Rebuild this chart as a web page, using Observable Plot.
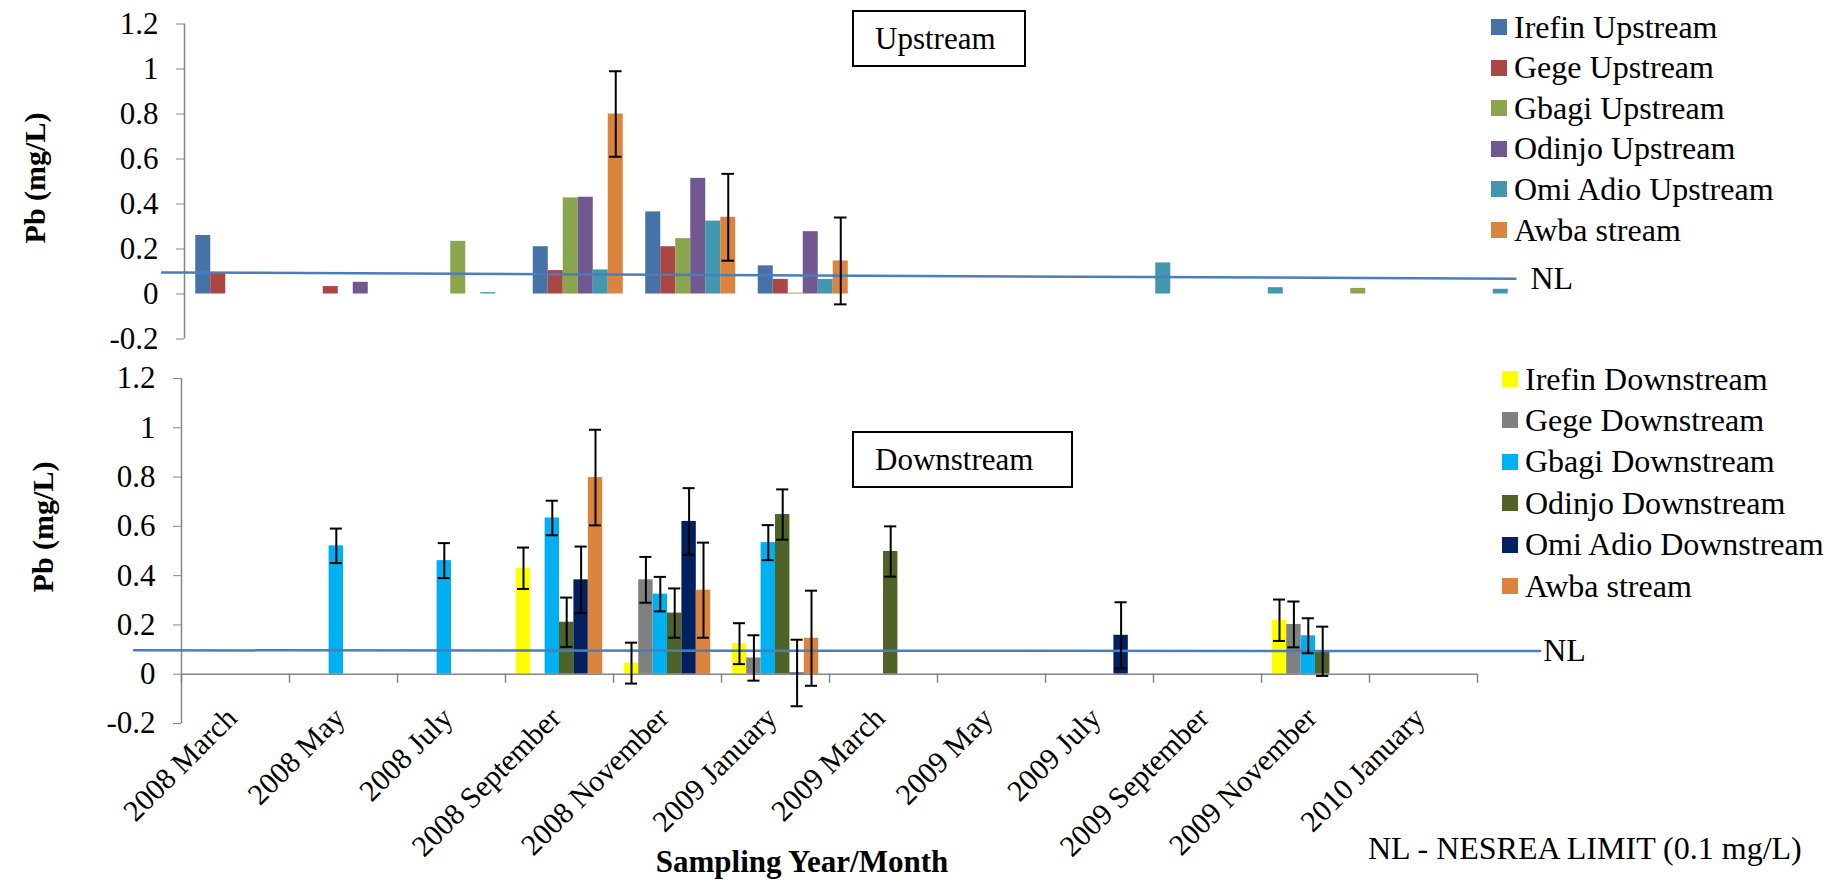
<!DOCTYPE html>
<html>
<head>
<meta charset="utf-8">
<script src="https://cdn.jsdelivr.net/npm/d3@7"></script>
<script src="https://cdn.jsdelivr.net/npm/@observablehq/plot@0.6"></script>
<style>
  body { margin: 0; background: #fff; }
  #chart { position: relative; width: 1843px; height: 880px; overflow: hidden;
           font-family: "Liberation Serif", "Times New Roman", serif; color: #000; background: #fff; }
  #chart svg { position: absolute; left: 0; overflow: visible; }
  .abs { position: absolute; white-space: nowrap; line-height: 1; }
  .box { position: absolute; box-sizing: border-box; border: 2px solid #000; background: #fff;
         display: flex; align-items: center; font-size: 31px; padding-left: 21px; }
  .legend { position: absolute; font-size: 32px; }
  .legend .item { position: absolute; left: 0; display: flex; align-items: center; white-space: nowrap; height: 30px; transform: translateY(-50%); }
  .legend .sw { width: 16px; height: 16px; margin-right: 7px; flex: none; }
  .ytitle { position: absolute; font-weight: bold; font-size: 30px; white-space: nowrap; line-height: 1;
            transform: translate(-50%, -50%) rotate(-90deg); }
</style>
</head>
<body>
<div id="chart"></div>
<script>
// ---------- data ----------
const months = ["2008 March", "2008 May", "2008 July", "2008 September", "2008 November",
  "2009 January", "2009 March", "2009 May", "2009 July", "2009 September", "2009 November", "2010 January"];
const yTicks = [-0.2, 0, 0.2, 0.4, 0.6, 0.8, 1, 1.2];

// Upstream panel
const upSeries = ["Irefin Upstream", "Gege Upstream", "Gbagi Upstream", "Odinjo Upstream", "Omi Adio Upstream", "Awba stream"];
const upColors = ["#4572A7", "#AA4643", "#89A54E", "#71588F", "#4198AF", "#DB843D"];
const irefinUp = [0.26, null, null, 0.21, 0.365, 0.125, null, null, null, null, null, null];
const gegeUp   = [0.095, 0.033, null, 0.104, 0.21, 0.065, null, null, null, null, null, null];
const gbagiUp  = [null, null, 0.234, 0.427, 0.246, 0.004, null, null, null, null, 0.025, null];
const odinjoUp = [null, 0.052, null, 0.43, 0.514, 0.277, null, null, null, null, null, null];
const omiUp    = [null, null, 0.006, 0.107, 0.324, 0.065, null, null, 0.138, 0.028, null, 0.021];
const awbaUp   = [null, null, null, 0.8, 0.341, 0.147, null, null, null, null, null, null];
const awbaUpErr = [null, null, null, 0.19, 0.193, 0.193, null, null, null, null, null, null];
const nlUp = [0.096, 0.068];   // NESREA limit line as drawn (start, end)

// Downstream panel
const downSeries = ["Irefin Downstream", "Gege Downstream", "Gbagi Downstream", "Odinjo Downstream", "Omi Adio Downstream", "Awba stream"];
const downColors = ["#FFFF00", "#808080", "#00B0F0", "#4F6228", "#002060", "#DB843D"];
const irefinDn = [null, null, null, 0.43, 0.045, 0.124, null, null, null, null, 0.219, null];
const gegeDn   = [null, null, null, null, 0.383, 0.066, null, null, null, null, 0.202, null];
const gbagiDn  = [null, 0.521, 0.461, 0.634, 0.325, 0.534, null, null, null, null, 0.156, null];
const odinjoDn = [null, null, null, 0.211, 0.248, 0.648, 0.498, null, null, null, 0.093, null];
const omiDn    = [null, null, null, 0.383, 0.62, 0.005, null, null, 0.158, null, null, null];
const awbaDn   = [null, null, null, 0.798, 0.341, 0.146, null, null, null, null, null, null];
const irefinDnErr = [null, null, null, 0.084, 0.083, 0.083, null, null, null, null, 0.084, null];
const gegeDnErr   = [null, null, null, null, 0.093, 0.092, null, null, null, null, 0.093, null];
const gbagiDnErr  = [null, 0.07, 0.071, 0.07, 0.07, 0.071, null, null, null, null, 0.071, null];
const odinjoDnErr = [null, null, null, 0.1, 0.1, 0.102, 0.102, null, null, null, 0.1, null];
const omiDnErr    = [null, null, null, 0.135, 0.135, 0.135, null, null, 0.134, null, null, null];
const awbaDnErr   = [null, null, null, 0.194, 0.193, 0.193, null, null, null, null, null, null];
const nlDown = [0.097, 0.094];

const nlNote = "NL - NESREA LIMIT (0.1 mg/L)";
const xTitle = "Sampling Year/Month";
const yTitle = "Pb (mg/L)";

// ---------- layout helpers ----------
const FONT = '"Liberation Serif", "Times New Roman", serif';
const NSER = 6, GAP = 1.5;                 // clustered bars, 150% gap width
const BW = 1 / (NSER + GAP);               // bar width in band units
const x1Of = d => d.i + (GAP / 2 + d.s) * BW;
const cxOf = d => x1Of(d) + BW / 2;
const CAP = BW * 0.42;

function rows(values, errs) {
  const out = [];
  values.forEach((vals, s) => vals.forEach((v, i) => {
    if (v == null) return;
    const e = errs && errs[s] ? errs[s][i] : null;
    out.push({s, i, v, e});
  }));
  return out;
}
const fmt = d => String(+d.toFixed(1));

function panel({data, colors, nl, nlX, nlDx, top, height, mLeft, mRight, mTop, mBottom, xAxis}) {
  const err = data.filter(d => d.e != null);
  const nlData = [{x: nlX[0], y: nl[0]}, {x: nlX[1], y: nl[1]}];
  const marks = [
    Plot.rectY(data, {x1: x1Of, x2: d => x1Of(d) + BW, y1: 0, y2: d => d.v, fill: d => colors[d.s]}),
    Plot.ruleX([0], {stroke: "#868686", strokeWidth: 1.5}),
    Plot.axisY({ticks: yTicks, tickFormat: fmt, tickSize: 8, tickPadding: 18, stroke: "#868686",
                fill: "#000", fontSize: 31, label: null}),
  ];
  if (xAxis) {
    marks.push(
      Plot.ruleY([0], {stroke: "#868686", strokeWidth: 1.5}),
      Plot.ruleX(d3.range(months.length + 1), {y1: 0, y2: 0, insetBottom: -9, stroke: "#868686", strokeWidth: 1.5}),
      Plot.text(months, {x: (d, i) => i + 0.5, y: 0, text: d => d, rotate: -45, textAnchor: "end",
                         lineAnchor: "top", dx: -12, dy: 30.5, fontSize: 30, fill: "#000"})
    );
  }
  marks.push(
    Plot.line(nlData, {x: "x", y: "y", stroke: "#4A7EBB", strokeWidth: 2.5}),
    Plot.text([nlData[1]], {x: "x", y: "y", text: () => "NL", textAnchor: "start", dx: nlDx, fontSize: 32, fill: "#000"}),
    Plot.ruleX(err, {x: cxOf, y1: d => d.v - d.e, y2: d => d.v + d.e, stroke: "#000", strokeWidth: 2}),
    Plot.ruleY(err, {y: d => d.v - d.e, x1: d => cxOf(d) - CAP, x2: d => cxOf(d) + CAP, stroke: "#000", strokeWidth: 2}),
    Plot.ruleY(err, {y: d => d.v + d.e, x1: d => cxOf(d) - CAP, x2: d => cxOf(d) + CAP, stroke: "#000", strokeWidth: 2})
  );
  const svg = Plot.plot({
    width: 1843, height,
    marginLeft: mLeft, marginRight: mRight, marginTop: mTop, marginBottom: mBottom,
    x: {type: "linear", domain: [0, months.length], axis: null},
    y: {domain: [-0.2, 1.2], axis: null},
    color: {type: "identity"},
    style: {fontFamily: FONT, fontSize: "30px", color: "#000", background: "transparent", overflow: "visible"},
    marks
  });
  svg.style.top = top + "px";
  return svg;
}

const chart = document.getElementById("chart");

const upData = rows([irefinUp, gegeUp, gbagiUp, odinjoUp, omiUp, awbaUp], [null, null, null, null, null, awbaUpErr]);
chart.appendChild(panel({
  data: upData, colors: upColors, nl: nlUp, nlX: [-0.2, 11.83], nlDx: 15,
  top: 0, height: 350, mLeft: 184, mRight: 309, mTop: 23.5, mBottom: 11.5, xAxis: false
}));

const dnData = rows([irefinDn, gegeDn, gbagiDn, odinjoDn, omiDn, awbaDn],
                    [irefinDnErr, gegeDnErr, gbagiDnErr, odinjoDnErr, omiDnErr, awbaDnErr]);
chart.appendChild(panel({
  data: dnData, colors: downColors, nl: nlDown, nlX: [-0.44, 12.58], nlDx: 3,
  top: 360, height: 520, mLeft: 181, mRight: 366, mTop: 18, mBottom: 157, xAxis: true
}));

// ---------- HTML annotations ----------
function add(text, cls, style) {
  const el = document.createElement("div");
  el.className = cls;
  el.textContent = text;
  Object.assign(el.style, style);
  chart.appendChild(el);
  return el;
}
add("Upstream", "box", {left: "852px", top: "10px", width: "174px", height: "57px"});
add("Downstream", "box", {left: "852px", top: "431px", width: "221px", height: "57px"});
add(yTitle, "ytitle", {left: "35px", top: "178px"});
add(yTitle, "ytitle", {left: "43px", top: "527px"});
add(xTitle, "abs", {left: "802px", top: "846px", transform: "translateX(-50%)", fontWeight: "bold", fontSize: "31px"});
add(nlNote, "abs", {left: "1368px", top: "832px", fontSize: "32px"});

function legend(names, colors, left, top0, step) {
  const lg = document.createElement("div");
  lg.className = "legend";
  lg.style.left = left + "px";
  lg.style.top = "0px";
  names.forEach((n, k) => {
    const it = document.createElement("div");
    it.className = "item";
    it.style.top = (top0 + step * k) + "px";
    const sw = document.createElement("span");
    sw.className = "sw";
    sw.style.background = colors[k];
    const tx = document.createElement("span");
    tx.textContent = n;
    it.appendChild(sw); it.appendChild(tx);
    lg.appendChild(it);
  });
  chart.appendChild(lg);
}
legend(upSeries, upColors, 1491, 27, 40.6);
legend(downSeries, downColors, 1502, 379, 41.4);
</script>
</body>
</html>
